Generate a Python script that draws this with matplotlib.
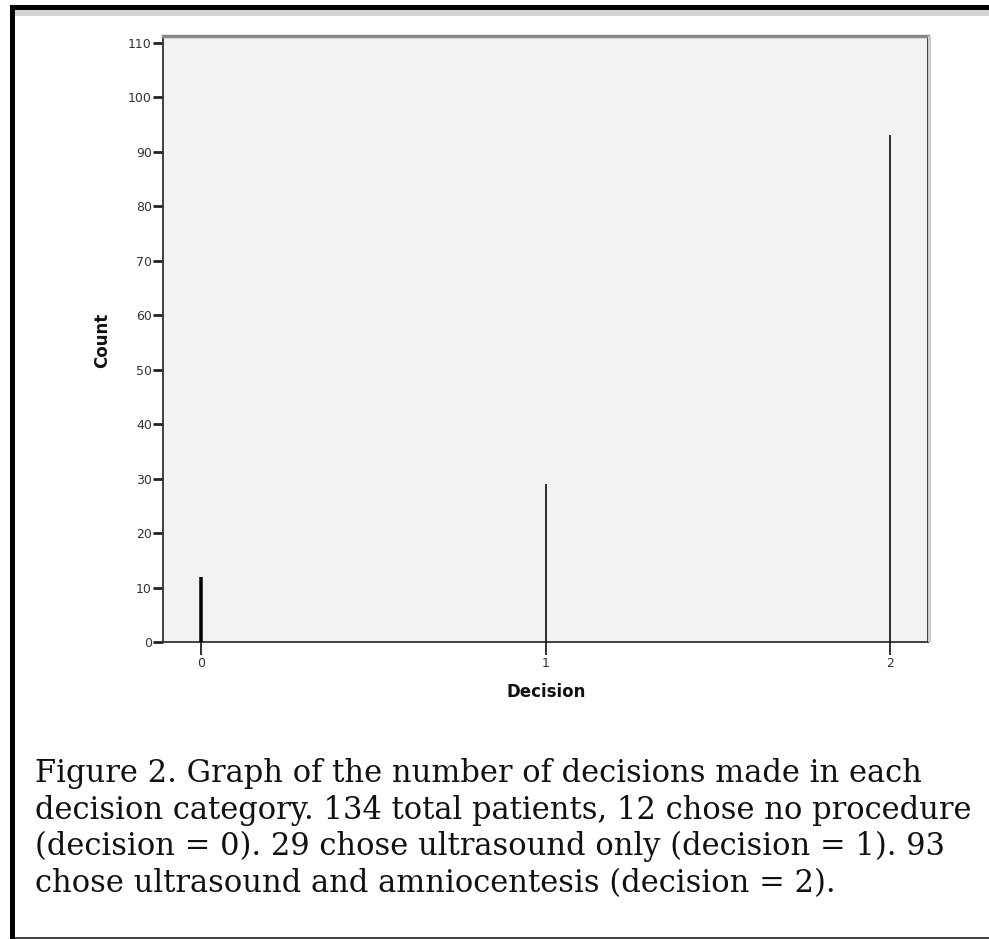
import matplotlib
matplotlib.use("Agg")
import matplotlib.pyplot as plt
from matplotlib.patches import Rectangle
import numpy as np

decisions = [0, 1, 2]
counts = [12, 29, 93]
bar_widths_px = [3.5, 1.6, 1.6]
y_ticks = list(range(0, 111, 10))
x_label = "Decision"
y_label = "Count"
caption_lines = [
    "Figure 2. Graph of the number of decisions made in each",
    "decision category. 134 total patients, 12 chose no procedure",
    "(decision = 0). 29 chose ultrasound only (decision = 1). 93",
    "chose ultrasound and amniocentesis (decision = 2).",
]

W, H = 989, 939
fig = plt.figure(figsize=(W / 100, H / 100), dpi=100)
fig.patch.set_facecolor("white")

def fx(px):
    return px / W

def fy(py):
    return 1 - py / H

# page frame decorations
fig.patches.append(Rectangle((fx(10), fy(10)), fx(979), 5 / H, transform=fig.transFigure,
                             facecolor="black", edgecolor="none", zorder=0))
fig.patches.append(Rectangle((fx(15), fy(16)), fx(974), 6 / H, transform=fig.transFigure,
                             facecolor="#d4d4d4", edgecolor="none", zorder=0))
fig.patches.append(Rectangle((fx(10), 0), fx(5), fy(5), transform=fig.transFigure,
                             facecolor="black", edgecolor="none", zorder=0))
fig.patches.append(Rectangle((fx(15), fy(938.5)), fx(974), 1.5 / H, transform=fig.transFigure,
                             facecolor="#444444", edgecolor="none", zorder=0))

ax = fig.add_axes([fx(163), fy(642), fx(928 - 163), (642 - 36) / H])
ax.set_facecolor("#f2f2f2")
ax.vlines(decisions, 0, counts, colors="black",
          linewidths=[w * 0.72 for w in bar_widths_px], zorder=3)
ax.set_xlim(-0.11, 2.11)
ax.set_ylim(0, 111.2)
ax.set_xticks(decisions)
ax.set_xticklabels([str(d) for d in decisions])
ax.set_yticks(y_ticks)
ax.set_yticklabels([str(t) for t in y_ticks])

for side, s in ax.spines.items():
    s.set_color("#333333")
    s.set_linewidth(1.3)
ax.spines["top"].set_color("#888888")
ax.spines["top"].set_linewidth(2.5)
ax.spines["right"].set_linewidth(1.3)
# shadow on right side
fig.patches.append(Rectangle((fx(928), fy(642)), fx(3), (642 - 36) / H, transform=fig.transFigure,
                             facecolor="#cccccc", edgecolor="none", zorder=0))

ax.tick_params(axis="y", direction="out", length=7, width=2, color="#222222",
               labelsize=9, labelcolor="#333333", pad=1)
ax.tick_params(axis="x", direction="out", length=9, width=1.3, color="#222222",
               labelsize=9, labelcolor="#333333", pad=2)

fig.text(fx(102), fy(340), y_label, rotation=90, ha="center", va="center",
         fontsize=12, fontweight="bold", color="#111111", family="DejaVu Sans")
fig.text(fx(546), fy(692), x_label, ha="center", va="center",
         fontsize=12, fontweight="bold", color="#111111", family="DejaVu Sans")

baselines = [782, 818.5, 855, 892]
for line, b in zip(caption_lines, baselines):
    fig.text(fx(35), fy(b), line, ha="left", va="baseline",
             fontsize=22, color="#111111", family="DejaVu Serif")

fig.savefig("out.png", dpi=100)
